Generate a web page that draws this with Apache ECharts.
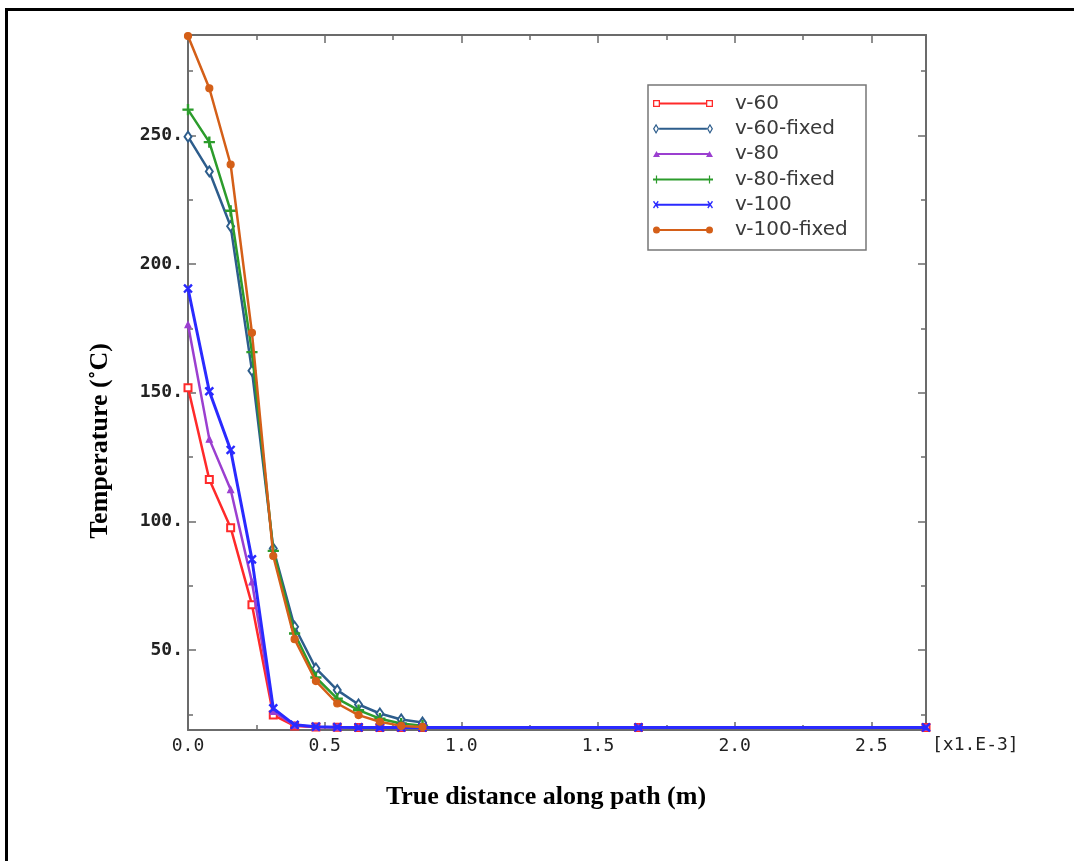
<!DOCTYPE html>
<html>
<head>
<meta charset="utf-8">
<title>Temperature along path</title>
<script src="https://cdn.jsdelivr.net/npm/echarts@6/dist/echarts.min.js"></script>
<style>
  html, body { margin: 0; padding: 0; background: #fff; }
  #chart { width: 1074px; height: 861px; }
</style>
</head>
<body>
<div id="chart"></div>
<script>
// Path positions (x1.E-3 m)
const xFixed = [0, 0.078, 0.156, 0.234, 0.312, 0.390, 0.468, 0.546, 0.624, 0.702, 0.780, 0.858];
const xFree  = [0, 0.078, 0.156, 0.234, 0.312, 0.390, 0.468, 0.546, 0.624, 0.702, 0.780, 0.858, 1.648, 2.700];

// Temperature (°C) at each path position
const v60      = [152.0, 116.3, 97.6, 67.7, 24.8, 20.6, 20.2, 20.1, 20.0, 20.0, 20.0, 20.0, 20.0, 20.0];
const v60fixed = [249.5, 236.0, 214.7, 158.6, 89.5, 59.1, 42.9, 34.5, 28.9, 25.4, 23.1, 21.9];
const v80      = [176.5, 132.0, 112.4, 76.5, 26.2, 20.8, 20.2, 20.1, 20.0, 20.0, 20.0, 20.0, 20.0, 20.0];
const v80fixed = [260.0, 247.4, 220.7, 165.8, 88.6, 56.5, 39.4, 31.2, 26.7, 23.4, 21.5, 20.7];
const v100     = [190.5, 150.6, 127.8, 85.3, 27.4, 21.0, 20.3, 20.1, 20.0, 20.0, 20.0, 20.0, 20.0, 20.0];
const v100fixed= [288.6, 268.3, 238.7, 173.3, 86.6, 54.3, 38.0, 29.3, 24.8, 22.2, 20.6, 20.2];

const seriesNames = ['v-60', 'v-60-fixed', 'v-80', 'v-80-fixed', 'v-100', 'v-100-fixed'];

// Axis ticks
const yLabelTicks = [50, 100, 150, 200, 250];
const yMinorTicks = [25, 75, 125, 175, 225, 275];
const xLabelTicks = [0, 0.5, 1.0, 1.5, 2.0, 2.5];

// thin plus sign, rotated 45° for the cross marker
const plusPath = 'path://M4.4,0h1.2v4.4h4.4v1.2h-4.4v4.4h-1.2v-4.4h-4.4v-1.2h4.4z';

// legend keys: a short line with the marker drawn at both ends
const legendIcons = [
  'path://M0,1.5H7V8.5H0Z M1.3,2.8V7.2H5.7V2.8Z M7,4H53V6H7Z M53,1.5H60V8.5H53Z M54.3,2.8V7.2H58.7V2.8Z',
  'path://M3.5,0L6.5,5L3.5,10L0.5,5Z M3.5,2.2L1.9,5L3.5,7.8L5.1,5Z M6.5,4H53.5V6H6.5Z M56.5,0L59.5,5L56.5,10L53.5,5Z M56.5,2.2L54.9,5L56.5,7.8L58.1,5Z',
  'path://M3.5,2L7,8H0Z M3.5,4H56.5V6H3.5Z M56.5,2L60,8H53Z',
  'path://M2.9,1H4.1V9H2.9Z M0,4H60V6H0Z M55.9,1H57.1V9H55.9Z',
  'path://M0.7,2.2L1.7,1.2L6.3,7.8L5.3,8.8Z M5.3,1.2L6.3,2.2L1.7,8.8L0.7,7.8Z M3.5,4H56.5V6H3.5Z M53.7,2.2L54.7,1.2L59.3,7.8L58.3,8.8Z M58.3,1.2L59.3,2.2L54.7,8.8L53.7,7.8Z',
  'path://M0,5A3.5,3.5 0 1 1 7,5A3.5,3.5 0 1 1 0,5Z M3.5,4H56.5V6H3.5Z M53,5A3.5,3.5 0 1 1 60,5A3.5,3.5 0 1 1 53,5Z'
];

const pair = (xs, ys) => ys.map((y, i) => [xs[i], y]);

const styles = [
  { color: '#ff2a2a', symbol: 'emptyRect', size: 7, width: 2.5 },
  { color: '#2d5d8c', symbol: 'emptyDiamond', size: [7, 10], width: 2.5 },
  { color: '#9b3fd0', symbol: 'triangle', size: 6, width: 2.5 },
  { color: '#2c9c2c', symbol: plusPath, size: 10, width: 2.5 },
  { color: '#2a2aff', symbol: plusPath, size: 10, rotate: 45, width: 3 },
  { color: '#d45f18', symbol: 'circle', size: 7, width: 2.5 }
];
const dataSets = [
  pair(xFree, v60), pair(xFixed, v60fixed), pair(xFree, v80),
  pair(xFixed, v80fixed), pair(xFree, v100), pair(xFixed, v100fixed)
];

const axisGray = '#6b6b6b';
const monoFont = 'DejaVu Sans Mono';

const chart = echarts.init(document.getElementById('chart'), null, { renderer: 'canvas' });

const yBase = (position, showLabels, ticks, len, showLine) => ({
  type: 'value', position, min: 19, max: 289,
  axisLine: { show: showLine, onZero: false, lineStyle: { color: axisGray, width: 2 } },
  axisTick: { show: true, inside: true, length: len, customValues: ticks, lineStyle: { color: axisGray, width: 1.5 } },
  axisLabel: showLabels
    ? { show: true, customValues: ticks, margin: 5, formatter: v => v + '.',
        fontFamily: monoFont, fontWeight: 'bold', fontSize: 18, color: '#222' }
    : { show: false },
  splitLine: { show: false }
});

const option = {
  animation: false,
  backgroundColor: '#ffffff',
  grid: { left: 188, right: 148, top: 35, bottom: 131, containLabel: false },
  xAxis: [
    {
      type: 'value', position: 'bottom', min: 0, max: 2.7, interval: 0.5,
      axisLine: { show: true, onZero: false, lineStyle: { color: axisGray, width: 2 } },
      axisTick: { show: true, inside: true, length: 8, lineStyle: { color: axisGray, width: 1.5 } },
      minorTick: { show: true, splitNumber: 2, length: 5, lineStyle: { color: axisGray, width: 1.5 } },
      axisLabel: {
        margin: 7, showMaxLabel: false,
        formatter: v => xLabelTicks.indexOf(v) >= 0 ? v.toFixed(1) : '',
        fontFamily: monoFont, fontSize: 18, color: '#222'
      },
      splitLine: { show: false },
      name: '[x1.E-3]', nameLocation: 'end', nameGap: 6,
      nameTextStyle: { fontFamily: monoFont, fontSize: 18, color: '#222', verticalAlign: 'top', padding: [6, 0, 0, 0] }
    },
    {
      type: 'value', position: 'top', min: 0, max: 2.7, interval: 0.5,
      axisLine: { show: true, onZero: false, lineStyle: { color: axisGray, width: 2 } },
      axisTick: { show: true, inside: true, length: 8, lineStyle: { color: axisGray, width: 1.5 } },
      minorTick: { show: true, splitNumber: 2, length: 5, lineStyle: { color: axisGray, width: 1.5 } },
      axisLabel: { show: false },
      splitLine: { show: false }
    }
  ],
  yAxis: [
    yBase('left', true, yLabelTicks, 8, true),
    yBase('left', false, yMinorTicks, 5, false),
    yBase('right', false, yLabelTicks, 8, true),
    yBase('right', false, yMinorTicks, 5, false)
  ],
  legend: {
    data: seriesNames.map((name, i) => ({ name, icon: legendIcons[i] })),
    orient: 'vertical',
    left: 648, top: 90.5,
    padding: [3, 8, 3, 5],
    itemWidth: 60, itemHeight: 12, itemGap: 5.3,
    symbolKeepAspect: true,
    itemStyle: { borderWidth: 0 },
    textStyle: { fontFamily: 'DejaVu Sans', fontSize: 20, color: '#3a3a3a', padding: [0, 0, 0, 17] },
    selectedMode: false
  },
  graphic: [
    // legend frame
    { type: 'rect', shape: { x: 648, y: 85, width: 218, height: 165 }, style: { fill: 'none', stroke: '#777', lineWidth: 1.5 }, z: 10 },
    // outer frame
    { type: 'line', shape: { x1: 5, y1: 9.5, x2: 1074, y2: 9.5 }, style: { stroke: '#000', lineWidth: 3 } },
    { type: 'line', shape: { x1: 6.5, y1: 8, x2: 6.5, y2: 861 }, style: { stroke: '#000', lineWidth: 3 } },
    // axis titles
    { type: 'text', x: 546, y: 797, style: { text: 'True distance along path (m)', fontFamily: 'Liberation Serif', fontWeight: 'bold', fontSize: 26, fill: '#000', align: 'center', verticalAlign: 'middle' } },
    { type: 'text', x: 100, y: 441, rotation: Math.PI / 2, style: { text: 'Temperature (˚C)', fontFamily: 'Liberation Serif', fontWeight: 'bold', fontSize: 26, fill: '#000', align: 'center', verticalAlign: 'middle' } }
  ],
  series: seriesNames.map((name, i) => ({
    name,
    type: 'line',
    xAxisIndex: 0, yAxisIndex: 0,
    data: dataSets[i],
    showSymbol: true,
    symbol: styles[i].symbol,
    symbolSize: styles[i].size,
    symbolRotate: styles[i].rotate || 0,
    lineStyle: { color: styles[i].color, width: styles[i].width },
    itemStyle: { color: styles[i].color, borderColor: styles[i].color, borderWidth: 1.2 },
    z: 2 + i
  }))
};

chart.setOption(option);
</script>
</body>
</html>
